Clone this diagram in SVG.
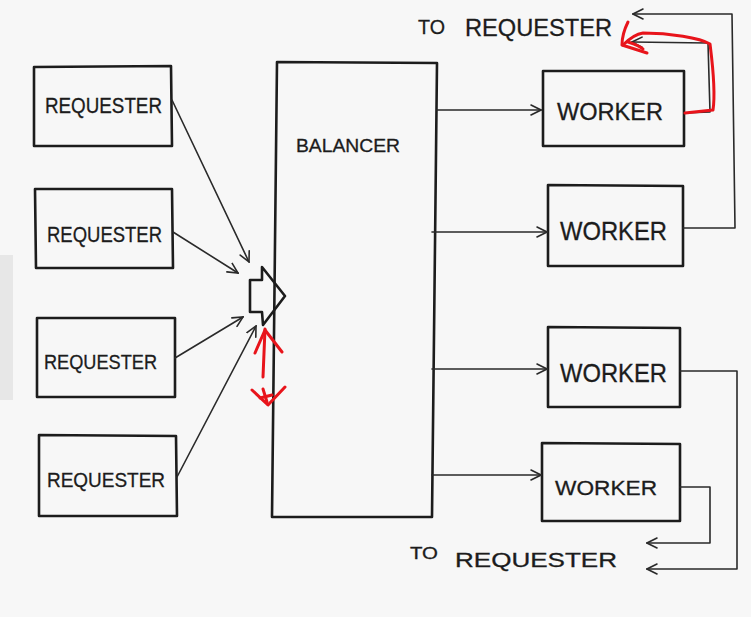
<svg xmlns="http://www.w3.org/2000/svg" width="751" height="617" viewBox="0 0 751 617">
<style>
.box{fill:none;stroke:#1c1c1c;stroke-width:2.6;stroke-linejoin:round}
.ln{fill:none;stroke:#2a2a2a;stroke-width:1.6;stroke-linecap:round;stroke-linejoin:round}
.red{fill:none;stroke:#e8141b;stroke-width:3;stroke-linecap:round;stroke-linejoin:round}
.t{font-family:"Liberation Sans",Arial,sans-serif;fill:#1c1c1c;stroke:#1c1c1c;stroke-width:0.3}
</style>
<defs>
<marker id="ah" viewBox="0 0 12 12" refX="11" refY="6" markerWidth="12" markerHeight="12" markerUnits="userSpaceOnUse" orient="auto">
<path d="M1,1 L11,6 L1,11" fill="none" stroke="#2a2a2a" stroke-width="1.6" stroke-linecap="round"/>
</marker>
</defs>
<rect width="751" height="617" fill="#f7f7f7"/>
<rect x="0" y="255" width="13" height="145" fill="#e7e7e7"/>

<g id="requester1"><path class="box" d="M34,67 L171,66 L172,146 L34,146 Z"/><text class="t" x="45" y="113" font-size="22" textLength="117" lengthAdjust="spacingAndGlyphs">REQUESTER</text></g>
<g id="requester2"><path class="box" d="M35,189 L172,189 L173,268 L36,268 Z"/><text class="t" x="47" y="242" font-size="22" textLength="115" lengthAdjust="spacingAndGlyphs">REQUESTER</text></g>
<g id="requester3"><path class="box" d="M37,318 L175,318 L175,397 L37,397 Z"/><text class="t" x="44" y="369" font-size="21" textLength="113" lengthAdjust="spacingAndGlyphs">REQUESTER</text></g>
<g id="requester4"><path class="box" d="M39,435 L176,436 L177,516 L39,516 Z"/><text class="t" x="47" y="487" font-size="21" textLength="118" lengthAdjust="spacingAndGlyphs">REQUESTER</text></g>

<g id="balancer"><path class="box" d="M277,62 L437,63 L432,517 L272,517 Z"/><text class="t" x="296" y="152" font-size="19" textLength="104" lengthAdjust="spacingAndGlyphs">BALANCER</text>
<path class="box" stroke-width="2.2" d="M250,280 L262,280 L262,267 L285,296 L263,325 L262,312 L250,312 Z"/></g>

<g id="worker1"><path class="box" d="M543,71 L684,71 L684,146 L543,146 Z"/><text class="t" x="557" y="120" font-size="24" textLength="106" lengthAdjust="spacingAndGlyphs">WORKER</text></g>
<g id="worker2"><path class="box" d="M548,185 L683,186 L683,266 L548,266 Z"/><text class="t" x="560" y="240" font-size="25" textLength="107" lengthAdjust="spacingAndGlyphs">WORKER</text></g>
<g id="worker3"><path class="box" d="M548,327 L680,328 L680,407 L548,407 Z"/><text class="t" x="560" y="382" font-size="25" textLength="107" lengthAdjust="spacingAndGlyphs">WORKER</text></g>
<g id="worker4"><path class="box" d="M542,443 L680,444 L680,521 L542,521 Z"/><text class="t" x="555" y="495" font-size="21" textLength="102" lengthAdjust="spacingAndGlyphs">WORKER</text></g>

<g id="labels">
<text class="t" x="418" y="34" font-size="21" textLength="27" lengthAdjust="spacingAndGlyphs">TO</text>
<text class="t" x="465" y="36" font-size="23" textLength="147" lengthAdjust="spacingAndGlyphs">REQUESTER</text>
<text class="t" x="410" y="559" font-size="16" textLength="28" lengthAdjust="spacingAndGlyphs">TO</text>
<text class="t" x="455" y="567" font-size="20" textLength="162" lengthAdjust="spacingAndGlyphs">REQUESTER</text>
</g>

<g id="connectors">
<path class="ln" marker-end="url(#ah)" d="M172,100 L249,262"/>
<path class="ln" marker-end="url(#ah)" d="M173,232 L238,273"/>
<path class="ln" marker-end="url(#ah)" d="M175,358 L243,317"/>
<path class="ln" marker-end="url(#ah)" d="M177,477 L256,326"/>
<path class="ln" marker-end="url(#ah)" d="M437,110 L541,110"/>
<path class="ln" marker-end="url(#ah)" d="M432,232 L547,232"/>
<path class="ln" marker-end="url(#ah)" d="M432,369 L547,369"/>
<path class="ln" marker-end="url(#ah)" d="M432,475 L541,475"/>
<path class="ln" marker-end="url(#ah)" d="M683,228 L735,228 L732,14 L633,14"/>
<path class="ln" marker-end="url(#ah)" d="M684,113 L710,112 L708,43 L632,42"/>
<path class="ln" marker-end="url(#ah)" d="M680,487 L710,487 L710,543 L647,543"/>
<path class="ln" marker-end="url(#ah)" d="M680,371 L737,371 L737,569 L647,569"/>
</g>

<g id="annotations">
<path class="red" d="M685,113 L713,110 C716,90 712,60 710,44 C700,38 670,33 643,33 C636,34 630,38 623,45"/>
<path class="red" d="M628,22 C624,30 622,38 622,45 L647,53"/>
<path class="red" d="M628,42 C634,44 640,46 643,49"/>
<path class="red" d="M263,377 L265,329"/>
<path class="red" d="M255,353 L265,330 L282,352"/>
<path class="red" d="M252,390 L268,405 L285,387"/>
<path class="red" d="M263,389 L267,402"/>
<path class="red" d="M260,398 L272,395"/>
</g>
</svg>
